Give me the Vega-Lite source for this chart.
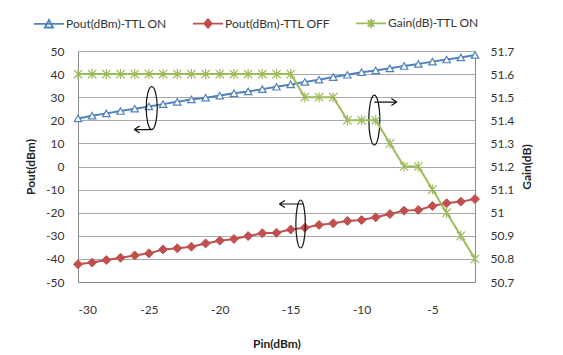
{
  "$schema": "https://vega.github.io/schema/vega-lite/v6.json",
  "autosize": "none",
  "width": 397,
  "height": 231,
  "padding": {"left": 78, "top": 51, "right": 88, "bottom": 73},
  "background": "white",
  "config": {
    "view": {"stroke": null},
    "font": "Lato",
    "axis": {"labelFont": "Lato", "titleFont": "Lato", "labelColor": "#333333", "titleColor": "#222222", "labelFontSize": 12, "titleFontSize": 12, "titleFontWeight": "bold"}
  },
  "datasets": {
    "main": [
      {"pin": -30, "series": "Pout(dBm)-TTL ON", "value": 20.8},
      {"pin": -29, "series": "Pout(dBm)-TTL ON", "value": 22.0},
      {"pin": -28, "series": "Pout(dBm)-TTL ON", "value": 23.0},
      {"pin": -27, "series": "Pout(dBm)-TTL ON", "value": 24.0},
      {"pin": -26, "series": "Pout(dBm)-TTL ON", "value": 25.0},
      {"pin": -25, "series": "Pout(dBm)-TTL ON", "value": 26.0},
      {"pin": -24, "series": "Pout(dBm)-TTL ON", "value": 27.0},
      {"pin": -23, "series": "Pout(dBm)-TTL ON", "value": 28.0},
      {"pin": -22, "series": "Pout(dBm)-TTL ON", "value": 29.0},
      {"pin": -21, "series": "Pout(dBm)-TTL ON", "value": 29.8},
      {"pin": -20, "series": "Pout(dBm)-TTL ON", "value": 30.7},
      {"pin": -19, "series": "Pout(dBm)-TTL ON", "value": 31.7},
      {"pin": -18, "series": "Pout(dBm)-TTL ON", "value": 32.5},
      {"pin": -17, "series": "Pout(dBm)-TTL ON", "value": 33.5},
      {"pin": -16, "series": "Pout(dBm)-TTL ON", "value": 34.5},
      {"pin": -15, "series": "Pout(dBm)-TTL ON", "value": 35.5},
      {"pin": -14, "series": "Pout(dBm)-TTL ON", "value": 36.6},
      {"pin": -13, "series": "Pout(dBm)-TTL ON", "value": 37.6},
      {"pin": -12, "series": "Pout(dBm)-TTL ON", "value": 38.7},
      {"pin": -11, "series": "Pout(dBm)-TTL ON", "value": 39.7},
      {"pin": -10, "series": "Pout(dBm)-TTL ON", "value": 40.8},
      {"pin": -9, "series": "Pout(dBm)-TTL ON", "value": 41.6},
      {"pin": -8, "series": "Pout(dBm)-TTL ON", "value": 42.5},
      {"pin": -7, "series": "Pout(dBm)-TTL ON", "value": 43.5},
      {"pin": -6, "series": "Pout(dBm)-TTL ON", "value": 44.4},
      {"pin": -5, "series": "Pout(dBm)-TTL ON", "value": 45.4},
      {"pin": -4, "series": "Pout(dBm)-TTL ON", "value": 46.3},
      {"pin": -3, "series": "Pout(dBm)-TTL ON", "value": 47.2},
      {"pin": -2, "series": "Pout(dBm)-TTL ON", "value": 48.3},
      {"pin": -30, "series": "Pout(dBm)-TTL OFF", "value": -42.3},
      {"pin": -29, "series": "Pout(dBm)-TTL OFF", "value": -41.6},
      {"pin": -28, "series": "Pout(dBm)-TTL OFF", "value": -40.5},
      {"pin": -27, "series": "Pout(dBm)-TTL OFF", "value": -39.5},
      {"pin": -26, "series": "Pout(dBm)-TTL OFF", "value": -38.5},
      {"pin": -25, "series": "Pout(dBm)-TTL OFF", "value": -37.6},
      {"pin": -24, "series": "Pout(dBm)-TTL OFF", "value": -35.9},
      {"pin": -23, "series": "Pout(dBm)-TTL OFF", "value": -35.4},
      {"pin": -22, "series": "Pout(dBm)-TTL OFF", "value": -34.7},
      {"pin": -21, "series": "Pout(dBm)-TTL OFF", "value": -33.3},
      {"pin": -20, "series": "Pout(dBm)-TTL OFF", "value": -32.1},
      {"pin": -19, "series": "Pout(dBm)-TTL OFF", "value": -31.4},
      {"pin": -18, "series": "Pout(dBm)-TTL OFF", "value": -30.1},
      {"pin": -17, "series": "Pout(dBm)-TTL OFF", "value": -28.9},
      {"pin": -16, "series": "Pout(dBm)-TTL OFF", "value": -28.7},
      {"pin": -15, "series": "Pout(dBm)-TTL OFF", "value": -27.3},
      {"pin": -14, "series": "Pout(dBm)-TTL OFF", "value": -26.5},
      {"pin": -13, "series": "Pout(dBm)-TTL OFF", "value": -25.3},
      {"pin": -12, "series": "Pout(dBm)-TTL OFF", "value": -24.6},
      {"pin": -11, "series": "Pout(dBm)-TTL OFF", "value": -23.6},
      {"pin": -10, "series": "Pout(dBm)-TTL OFF", "value": -23.2},
      {"pin": -9, "series": "Pout(dBm)-TTL OFF", "value": -22.0},
      {"pin": -8, "series": "Pout(dBm)-TTL OFF", "value": -20.6},
      {"pin": -7, "series": "Pout(dBm)-TTL OFF", "value": -19.1},
      {"pin": -6, "series": "Pout(dBm)-TTL OFF", "value": -18.8},
      {"pin": -5, "series": "Pout(dBm)-TTL OFF", "value": -17.1},
      {"pin": -4, "series": "Pout(dBm)-TTL OFF", "value": -15.9},
      {"pin": -3, "series": "Pout(dBm)-TTL OFF", "value": -15.2},
      {"pin": -2, "series": "Pout(dBm)-TTL OFF", "value": -14.1},
      {"pin": -30, "series": "Gain(dB)-TTL ON", "value": 51.6},
      {"pin": -29, "series": "Gain(dB)-TTL ON", "value": 51.6},
      {"pin": -28, "series": "Gain(dB)-TTL ON", "value": 51.6},
      {"pin": -27, "series": "Gain(dB)-TTL ON", "value": 51.6},
      {"pin": -26, "series": "Gain(dB)-TTL ON", "value": 51.6},
      {"pin": -25, "series": "Gain(dB)-TTL ON", "value": 51.6},
      {"pin": -24, "series": "Gain(dB)-TTL ON", "value": 51.6},
      {"pin": -23, "series": "Gain(dB)-TTL ON", "value": 51.6},
      {"pin": -22, "series": "Gain(dB)-TTL ON", "value": 51.6},
      {"pin": -21, "series": "Gain(dB)-TTL ON", "value": 51.6},
      {"pin": -20, "series": "Gain(dB)-TTL ON", "value": 51.6},
      {"pin": -19, "series": "Gain(dB)-TTL ON", "value": 51.6},
      {"pin": -18, "series": "Gain(dB)-TTL ON", "value": 51.6},
      {"pin": -17, "series": "Gain(dB)-TTL ON", "value": 51.6},
      {"pin": -16, "series": "Gain(dB)-TTL ON", "value": 51.6},
      {"pin": -15, "series": "Gain(dB)-TTL ON", "value": 51.6},
      {"pin": -14, "series": "Gain(dB)-TTL ON", "value": 51.5},
      {"pin": -13, "series": "Gain(dB)-TTL ON", "value": 51.5},
      {"pin": -12, "series": "Gain(dB)-TTL ON", "value": 51.5},
      {"pin": -11, "series": "Gain(dB)-TTL ON", "value": 51.4},
      {"pin": -10, "series": "Gain(dB)-TTL ON", "value": 51.4},
      {"pin": -9, "series": "Gain(dB)-TTL ON", "value": 51.4},
      {"pin": -8, "series": "Gain(dB)-TTL ON", "value": 51.3},
      {"pin": -7, "series": "Gain(dB)-TTL ON", "value": 51.2},
      {"pin": -6, "series": "Gain(dB)-TTL ON", "value": 51.2},
      {"pin": -5, "series": "Gain(dB)-TTL ON", "value": 51.1},
      {"pin": -4, "series": "Gain(dB)-TTL ON", "value": 51.0},
      {"pin": -3, "series": "Gain(dB)-TTL ON", "value": 50.9},
      {"pin": -2, "series": "Gain(dB)-TTL ON", "value": 50.8}
    ],
    "ann": [
      {"pin": -24.8, "pout": 25.3, "kind": "a"},
      {"pin": -9.1, "pout": 20.1, "kind": "b"},
      {"pin": -14.3, "pout": -24.9, "kind": "c"}
    ]
  },
  "layer": [
    {
      "layer": [
        {
          "data": {"name": "main"},
          "transform": [{"filter": "datum.series !== 'Gain(dB)-TTL ON'"}],
          "mark": {"type": "line", "strokeWidth": 2},
          "encoding": {
            "x": {"field": "pin", "type": "quantitative",
              "scale": {"domain": [-30, -2], "nice": false, "zero": false},
              "axis": {"title": "Pin(dBm)", "values": [-30, -25, -20, -15, -10, -5], "tickCount": 6, "format": "d", "labelExpr": "replace(datum.label, '\u2212', '-')", "labelOverlap": false, "ticks": false, "grid": false, "domainColor": "#8c8c8c", "labelPadding": 22, "titlePadding": 23}},
            "y": {"field": "value", "type": "quantitative",
              "scale": {"domain": [-50, 50], "nice": false, "zero": false},
              "axis": {"title": "Pout(dBm)", "values": [-50, -40, -30, -20, -10, 0, 10, 20, 30, 40, 50], "tickCount": 11, "format": "d", "labelExpr": "replace(datum.label, '\u2212', '-')", "labelOverlap": false, "ticks": false, "grid": true, "gridColor": "#a8a8a8", "domainColor": "#8c8c8c", "labelPadding": 14, "titlePadding": 8}},
            "color": {"field": "series", "type": "nominal",
              "scale": {"domain": ["Pout(dBm)-TTL ON", "Pout(dBm)-TTL OFF", "Gain(dB)-TTL ON"], "range": ["#4F81BD", "#C0504D", "#9BBB59"]},
              "legend": {
                "title": null, "orient": "none", "direction": "horizontal",
                "legendX": -45, "legendY": -44,
                "labelFont": "Lato", "labelFontSize": 12, "labelColor": "#333333",
                "symbolSize": 900, "labelOffset": 1, "columnPadding": 22,
                "encode": {"symbols": {"update": {
                  "shape": {"signal": "datum.value === 'Pout(dBm)-TTL ON' ? 'M-1,0H1M-0.27,0.24L0,-0.26L0.27,0.24Z' : datum.value === 'Pout(dBm)-TTL OFF' ? 'M-1,0H1M0,-0.28L0.26,0L0,0.28L-0.26,0Z' : 'M-1,0H1M-0.22,-0.22L0.22,0.22M-0.22,0.22L0.22,-0.22M0,-0.3V0.3'"},
                  "fill": {"signal": "datum.value === 'Pout(dBm)-TTL ON' ? 'white' : datum.value === 'Pout(dBm)-TTL OFF' ? '#C0504D' : 'transparent'"},
                  "strokeWidth": {"value": 1.8},
                  "size": {"value": 900}
                }}}
              }}
          }
        },
        {
          "data": {"name": "main"},
          "transform": [{"filter": "datum.series === 'Pout(dBm)-TTL ON'"}],
          "mark": {"type": "point", "shape": "triangle-up", "size": 55, "filled": true, "fill": "white", "stroke": "#4F81BD", "strokeWidth": 1.2, "opacity": 1},
          "encoding": {
            "x": {"field": "pin", "type": "quantitative"},
            "y": {"field": "value", "type": "quantitative"}
          }
        },
        {
          "data": {"name": "main"},
          "transform": [{"filter": "datum.series === 'Pout(dBm)-TTL OFF'"}],
          "mark": {"type": "point", "shape": "diamond", "size": 80, "filled": true, "fill": "#C0504D", "stroke": "#C0504D", "strokeWidth": 1, "opacity": 1},
          "encoding": {
            "x": {"field": "pin", "type": "quantitative"},
            "y": {"field": "value", "type": "quantitative"}
          }
        },
        {
          "data": {"name": "ann"},
          "mark": {"type": "point", "size": 2500, "filled": false, "stroke": "#111111", "strokeWidth": 1.2, "opacity": 1},
          "encoding": {
            "x": {"field": "pin", "type": "quantitative"},
            "y": {"field": "pout", "type": "quantitative"},
            "shape": {"field": "kind", "type": "nominal", "legend": null,
              "scale": {"domain": ["a", "b", "c"], "range": [
                "M0,-0.86C0.12,-0.86 0.22,-0.475 0.22,0C0.22,0.475 0.12,0.86 0,0.86C-0.12,0.86 -0.22,0.475 -0.22,0C-0.22,-0.475 -0.12,-0.86 0,-0.86ZM0,0.86H-0.7M-0.7,0.86L-0.48,0.72M-0.7,0.86L-0.48,1.0",
                "M0,-1C0.12,-1 0.22,-0.55 0.22,0C0.22,0.55 0.12,1 0,1C-0.12,1 -0.22,0.55 -0.22,0C-0.22,-0.55 -0.12,-1 0,-1ZM0,-0.72H0.9M0.9,-0.72L0.68,-0.86M0.9,-0.72L0.68,-0.58",
                "M0,-0.96C0.105,-0.96 0.19,-0.53 0.19,0C0.19,0.53 0.105,0.96 0,0.96C-0.105,0.96 -0.19,0.53 -0.19,0C-0.19,-0.53 -0.105,-0.96 0,-0.96ZM0.1,-0.8H-0.85M-0.85,-0.8L-0.63,-0.94M-0.85,-0.8L-0.63,-0.66"
              ]}}
          }
        }
      ]
    },
    {
      "layer": [
        {
          "data": {"name": "main"},
          "transform": [{"filter": "datum.series === 'Gain(dB)-TTL ON'"}],
          "mark": {"type": "line", "strokeWidth": 2},
          "encoding": {
            "x": {"field": "pin", "type": "quantitative"},
            "y": {"field": "value", "type": "quantitative",
              "scale": {"domain": [50.7, 51.7], "nice": false, "zero": false},
              "axis": {"orient": "right", "title": "Gain(dB)", "titleAngle": 270, "values": [50.7, 50.8, 50.9, 51, 51.1, 51.2, 51.3, 51.4, 51.5, 51.6, 51.7], "tickCount": 11, "labelExpr": "datum.value === 51 ? '51' : format(datum.value, '.1f')", "labelOverlap": false, "ticks": false, "grid": false, "domainColor": "#8c8c8c", "labelPadding": 15, "titlePadding": 20}},
            "color": {"field": "series", "type": "nominal"}
          }
        },
        {
          "data": {"name": "main"},
          "transform": [{"filter": "datum.series === 'Gain(dB)-TTL ON'"}],
          "mark": {"type": "point", "shape": "M-1,-1L1,1M-1,1L1,-1M0,-1.2V1.2", "size": 70, "filled": false, "stroke": "#9BBB59", "strokeWidth": 1.2, "opacity": 1},
          "encoding": {
            "x": {"field": "pin", "type": "quantitative"},
            "y": {"field": "value", "type": "quantitative"}
          }
        }
      ]
    }
  ],
  "resolve": {"scale": {"y": "independent"}}
}
